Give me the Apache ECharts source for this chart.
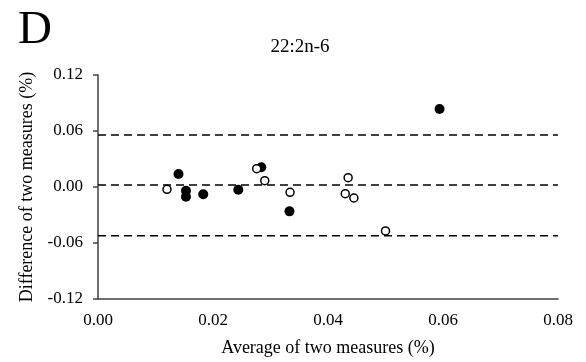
<!DOCTYPE html>
<html><head><meta charset="utf-8">
<script src="https://cdn.jsdelivr.net/npm/echarts@6/dist/echarts.min.js"></script>
<style>html,body{margin:0;padding:0;background:#fff}#c{width:586px;height:362px}</style>
</head><body><div id="c"></div>
<script>
const filledPoints = [[0.0140,0.0139],[0.0153,-0.0040],[0.0153,-0.0104],[0.0183,-0.0078],[0.0244,-0.0029],[0.0284,0.0211],[0.0333,-0.0261],[0.0594,0.0836]];
const openPoints = [[0.0120,-0.0025],[0.0276,0.0196],[0.0290,0.0068],[0.0334,-0.0057],[0.0435,0.0100],[0.0430,-0.0072],[0.0445,-0.0118],[0.0500,-0.0471]];
const refLines = [0.0557, 0.0021, -0.0522];
const xRange = [0, 0.08];
const yRange = [-0.12, 0.12];
const titleText = '22:2n-6';
const panelLabel = 'D';
const xName = 'Average of two measures (%)';
const yName = 'Difference of two measures (%)';

const font = 'Liberation Serif, Times New Roman, serif';
const chart = echarts.init(document.getElementById('c'));
const lineSeries = refLines.map(v => ({
  type: 'line', data: [[xRange[0], v], [xRange[1], v]], symbol: 'none', silent: true,
  lineStyle: {color: '#000', width: 1.5, type: [8, 5]}, z: 1
}));
chart.setOption({
  animation: false,
  title: [
    {text: panelLabel, left: 13, top: 2, textStyle: {fontFamily: font, fontSize: 47, fontWeight: 'normal', color: '#000'}},
    {text: titleText, left: 295, top: 33, textAlign: 'center', textStyle: {fontFamily: font, fontSize: 19, fontWeight: 'normal', color: '#000'}}
  ],
  grid: {left: 98, right: 28, top: 75, bottom: 63},
  xAxis: {
    type: 'value', min: xRange[0], max: xRange[1], interval: 0.02,
    name: xName, nameLocation: 'middle', nameGap: 40,
    nameTextStyle: {fontFamily: font, fontSize: 18, color: '#000'},
    axisLine: {show: true, onZero: false, lineStyle: {color: '#404040', width: 1.5}},
    axisTick: {show: false},
    splitLine: {show: false},
    axisLabel: {fontFamily: font, fontSize: 17, color: '#000', margin: 13, formatter: v => v.toFixed(2)}
  },
  yAxis: {
    type: 'value', min: yRange[0], max: yRange[1], interval: 0.06,
    name: yName, nameLocation: 'middle', nameGap: 55, nameRotate: 90,
    nameTextStyle: {fontFamily: font, fontSize: 18, color: '#000'},
    axisLine: {show: true, onZero: false, lineStyle: {color: '#404040', width: 1.5}},
    axisTick: {show: true, length: 5, lineStyle: {color: '#404040', width: 1.5}},
    splitLine: {show: false},
    axisLabel: {fontFamily: font, fontSize: 17, color: '#000', margin: 15, formatter: v => v.toFixed(2)}
  },
  series: [
    ...lineSeries,
    {type: 'scatter', data: filledPoints, symbol: 'circle', symbolSize: 10,
     itemStyle: {color: '#000', opacity: 1}, z: 3},
    {type: 'scatter', data: openPoints, symbol: 'circle', symbolSize: 8,
     itemStyle: {color: '#fff', borderColor: '#000', borderWidth: 1.5, opacity: 1}, z: 3}
  ]
});
</script></body></html>
